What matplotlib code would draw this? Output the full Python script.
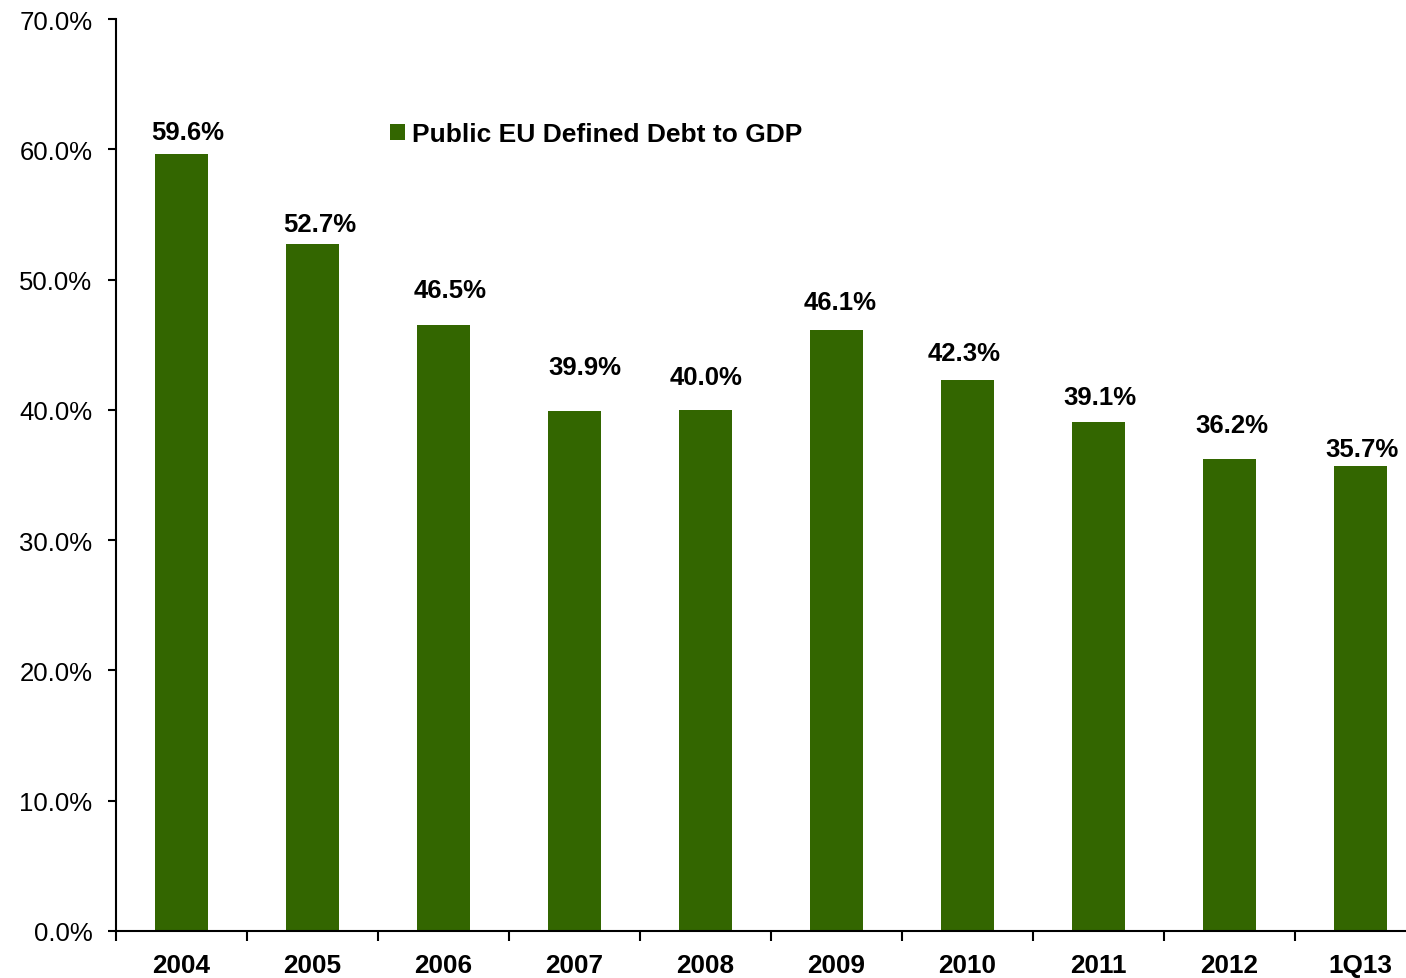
import matplotlib
matplotlib.use("Agg")
import matplotlib.pyplot as plt
import numpy as np
from matplotlib.ticker import FixedLocator, FuncFormatter

plt.rcParams['font.family'] = ['Liberation Sans', 'DejaVu Sans']

categories = ["2004", "2005", "2006", "2007", "2008", "2009", "2010", "2011", "2012", "1Q13"]
debt_to_gdp = [59.6, 52.7, 46.5, 39.9, 40.0, 46.1, 42.3, 39.1, 36.2, 35.7]
series_name = "Public EU Defined Debt to GDP"
bar_color = "#336600"

# hand-placed value labels: (dx, dy) in pixels from the bar top, to the label centre
label_shift_x = [6.5, 7, 6.5, 10, 1, 4, -3.5, 1.5, 2, 1]
label_shift_y = [24, 22, 37, 46, 35, 30, 29, 27, 36, 19]

W, H = 1406, 979
fig = plt.figure(figsize=(W / 100, H / 100), dpi=100)
ax = fig.add_axes([116 / W, (H - 932) / H, 1310 / W, 912 / H])

x = np.arange(len(categories))
bars = ax.bar(x, debt_to_gdp, width=0.4, color=bar_color, label=series_name, zorder=2)

for xi, v, dx, dy in zip(x, debt_to_gdp, label_shift_x, label_shift_y):
    ax.annotate(f"{v:.1f}%", (xi, v), xytext=(dx, dy - 9), textcoords="offset pixels",
                ha="center", va="baseline", fontsize=18.5, fontweight="bold")

ax.set_xlim(-0.5, len(categories) - 0.5)
ax.set_ylim(0, 70)
ax.set_yticks(np.arange(0, 71, 10))
ax.yaxis.set_major_formatter(FuncFormatter(lambda v, p: f"{v:.1f}%"))
ax.tick_params(axis="y", direction="out", length=6, width=1.5, pad=11,
               labelsize=18.5)

ax.set_xticks(x)
ax.set_xticklabels(categories, fontsize=18.8, fontweight="bold")
ax.xaxis.set_minor_locator(FixedLocator(np.arange(-0.5, len(categories), 1.0)))
ax.tick_params(axis="x", which="major", length=0, pad=16)
ax.tick_params(axis="x", which="minor", direction="out", length=7, width=1.5)

for s in ("top", "right"):
    ax.spines[s].set_visible(False)
for s in ("left", "bottom"):
    ax.spines[s].set_linewidth(1.5)

leg = ax.legend(loc="upper left", bbox_to_anchor=(274 / 1310, (932 - 123) / 912),
                frameon=False, fontsize=19, handlelength=0.55, handleheight=0.55,
                handletextpad=0.3, borderpad=0, borderaxespad=0)
for t in leg.get_texts():
    t.set_fontweight("bold")

fig.savefig("out.png", dpi=100)
